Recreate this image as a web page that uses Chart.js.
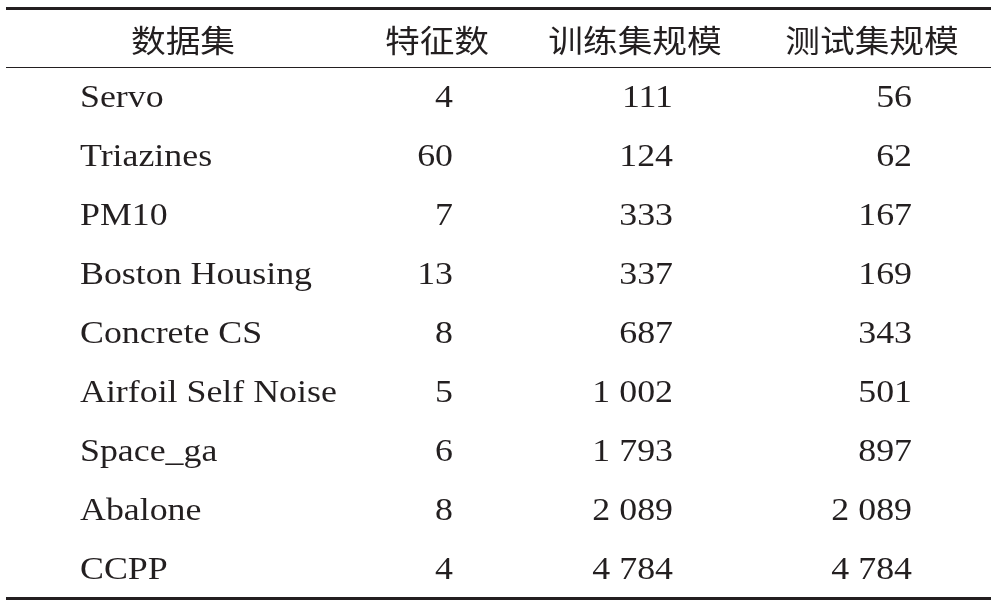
<!DOCTYPE html>
<html><head><meta charset="utf-8">
<script src="https://cdn.jsdelivr.net/npm/chart.js@4/dist/chart.umd.min.js"></script>
<style>html,body{margin:0;padding:0;background:#fff}#c{display:block}</style>
</head><body>
<div style="width:997px;height:609px"><canvas id="c"></canvas></div>
<script>
const headers = ['数据集','特征数','训练集规模','测试集规模'];
const datasetNames = ['Servo','Triazines','PM10','Boston Housing','Concrete CS','Airfoil Self Noise','Space_ga','Abalone','CCPP'];
const featureCounts = ['4','60','7','13','8','5','6','8','4'];
const trainSizes = ['111','124','333','337','687','1 002','1 793','2 089','4 784'];
const testSizes = ['56','62','167','169','343','501','897','2 089','4 784'];

const rowLabels = ['header'].concat(datasetNames);
const colHeaderX = [183, 437, 635, 872];
const colValueX = [80, 453, 673, 912];
const colAlign = ['left','right','right','right'];

const tablePlugin = {
  id: 'table',
  afterDraw(chart) {
    const ctx = chart.ctx, x = chart.scales.x, y = chart.scales.y, a = chart.chartArea;
    ctx.save();
    ctx.fillStyle = '#231f20'; ctx.strokeStyle = '#231f20';
    const line = (yy, w) => { ctx.lineWidth = w; ctx.beginPath(); ctx.moveTo(x.getPixelForValue(6), yy); ctx.lineTo(x.getPixelForValue(991), yy); ctx.stroke(); };
    line(a.top, 3); line(a.bottom, 3); line((y.getPixelForValue(0)+y.getPixelForValue(1))/2, 1.2);
    ctx.textBaseline = 'middle';
    const sx = 1.12;
    const txt = (s, px, py) => { ctx.save(); ctx.translate(px, py + 2); ctx.scale(sx, 1); ctx.fillText(s, 0, 0); ctx.restore(); };
    ctx.font = '31px "Noto Sans CJK SC"'; ctx.textAlign = 'center';
    headers.forEach((h,i)=>txt(h, x.getPixelForValue(colHeaderX[i]), y.getPixelForValue(0)));
    ctx.font = '32px "Liberation Serif"';
    const cols = [datasetNames, featureCounts, trainSizes, testSizes];
    cols.forEach((col,ci)=>{
      ctx.textAlign = colAlign[ci];
      col.forEach((v,ri)=>txt(v, x.getPixelForValue(colValueX[ci]), y.getPixelForValue(ri+1)));
    });
    ctx.restore();
  }
};

new Chart(document.getElementById('c'), {
  type: 'scatter',
  data: { labels: rowLabels, datasets: [{ data: [] }] },
  options: {
    responsive: true, maintainAspectRatio: false, animation: false,
    layout: { padding: { top: 8.5, bottom: 10.5, left: 0, right: 0 } },
    plugins: { legend: { display: false }, tooltip: { enabled: false } },
    scales: {
      x: { type: 'linear', min: 0, max: 997, display: false },
      y: { type: 'category', labels: rowLabels, offset: true, display: false }
    }
  },
  plugins: [tablePlugin]
});
</script>
</body></html>
